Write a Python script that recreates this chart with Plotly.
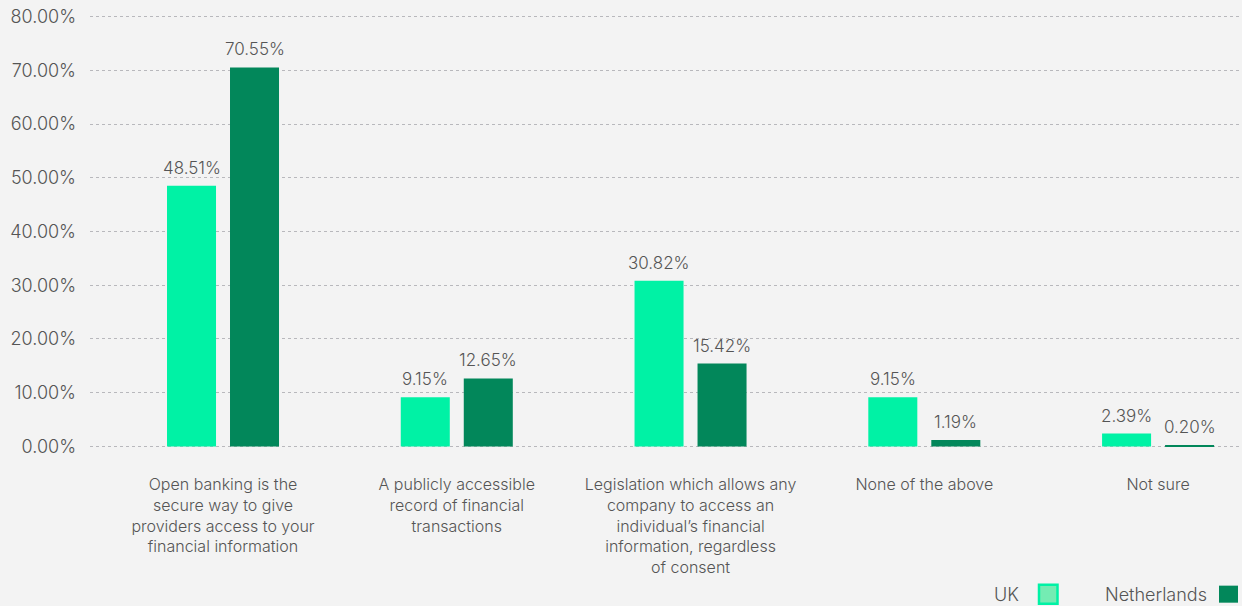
import plotly.graph_objects as go

categories = [
    "Open banking is the<br>secure way to give<br>providers access to your<br>financial information",
    "A publicly accessible<br>record of financial<br>transactions",
    "Legislation which allows any<br>company to access an<br>individual’s financial<br>information, regardless<br>of consent",
    "None of the above",
    "Not sure",
]
uk_values = [48.51, 9.15, 30.82, 9.15, 2.39]
nl_values = [70.55, 12.65, 15.42, 1.19, 0.20]
series_names = ["UK", "Netherlands"]
y_ticks = [0, 10, 20, 30, 40, 50, 60, 70, 80]
y_tick_labels = [f"{v:.2f}%" for v in y_ticks]

UK_COLOR = "#00F2A5"
NL_COLOR = "#02875A"
TEXT_COLOR = "#555555"
BG = "#F3F3F3"
FONT = "Inter"

W, H = 1242, 606
L, R = 90, 0
plot_top_px, plot_bot_px = 15.4, 447.6
y_range = [-0.3, 80.3]
x_range = [-0.569, 4.359]

fig = go.Figure()
fig.add_trace(go.Bar(name=series_names[0], x=categories, y=uk_values,
                     marker=dict(color=UK_COLOR, line=dict(width=0)),
                     showlegend=False, hoverinfo="skip"))
fig.add_trace(go.Bar(name=series_names[1], x=categories, y=nl_values,
                     marker=dict(color=NL_COLOR, line=dict(width=0)),
                     showlegend=False, hoverinfo="skip"))

annotations = []
for vals, shift in ((uk_values, -31.5), (nl_values, 31.5)):
    for c, v in zip(categories, vals):
        annotations.append(dict(
            x=c, y=v, xref="x", yref="y", text=f"{v:.2f}%",
            showarrow=False, xshift=shift, yanchor="bottom", yshift=6,
            font=dict(family=FONT, size=17, color=TEXT_COLOR, weight=300),
        ))

plot_w = W - L - R
plot_h = plot_bot_px - plot_top_px

def px_x(px):
    return (px - L) / plot_w

def px_y(py):
    return (plot_bot_px - py) / plot_h

# custom legend (text followed by swatch)
annotations.append(dict(x=px_x(1021), y=px_y(593.5), xref="paper", yref="paper",
                        text=series_names[0], showarrow=False, xanchor="right", yanchor="middle",
                        font=dict(family=FONT, size=18, color=TEXT_COLOR, weight=300)))
annotations.append(dict(x=px_x(1209), y=px_y(593.5), xref="paper", yref="paper",
                        text=series_names[1], showarrow=False, xanchor="right", yanchor="middle",
                        font=dict(family=FONT, size=18, color=TEXT_COLOR, weight=300)))
shapes = [
    dict(type="rect", xref="paper", yref="paper",
         x0=px_x(1039), x1=px_x(1057.5), y0=px_y(603), y1=px_y(584),
         fillcolor="#74ECB3", line=dict(color=UK_COLOR, width=2.5)),
    dict(type="rect", xref="paper", yref="paper",
         x0=px_x(1219), x1=px_x(1238), y0=px_y(602), y1=px_y(585),
         fillcolor=NL_COLOR, line=dict(width=0)),
]

fig.update_layout(
    width=W, height=H,
    paper_bgcolor=BG, plot_bgcolor=BG,
    margin=dict(l=L, r=R, t=plot_top_px, b=H - plot_bot_px, pad=0),
    barmode="group", bargap=0.461, bargroupgap=0.222,
    font=dict(family=FONT, color=TEXT_COLOR, weight=300),
    annotations=annotations, shapes=shapes,
    showlegend=False,
)
fig.update_xaxes(range=x_range, showgrid=False, zeroline=False, showline=False,
                 ticks="", ticklabelstandoff=25,
                 tickfont=dict(family=FONT, size=16, color=TEXT_COLOR, weight=300))
fig.update_yaxes(range=y_range, tickvals=y_ticks, ticktext=y_tick_labels,
                 showgrid=True, gridcolor="#B8B8BC", gridwidth=1, griddash="3px,3px",
                 zeroline=False, showline=False, ticks="", ticklabelstandoff=13,
                 tickfont=dict(family=FONT, size=18, color=TEXT_COLOR, weight=300))

fig.write_html("out.html", config={"displayModeBar": False})

# remove default page margin so the figure sits at the window's top-left corner
with open("out.html", "r", encoding="utf-8") as f:
    html = f.read()
html = html.replace("<head>", "<head><style>html,body{margin:0;padding:0;background:#F3F3F3;overflow:hidden;}</style>", 1)
with open("out.html", "w", encoding="utf-8") as f:
    f.write(html)
